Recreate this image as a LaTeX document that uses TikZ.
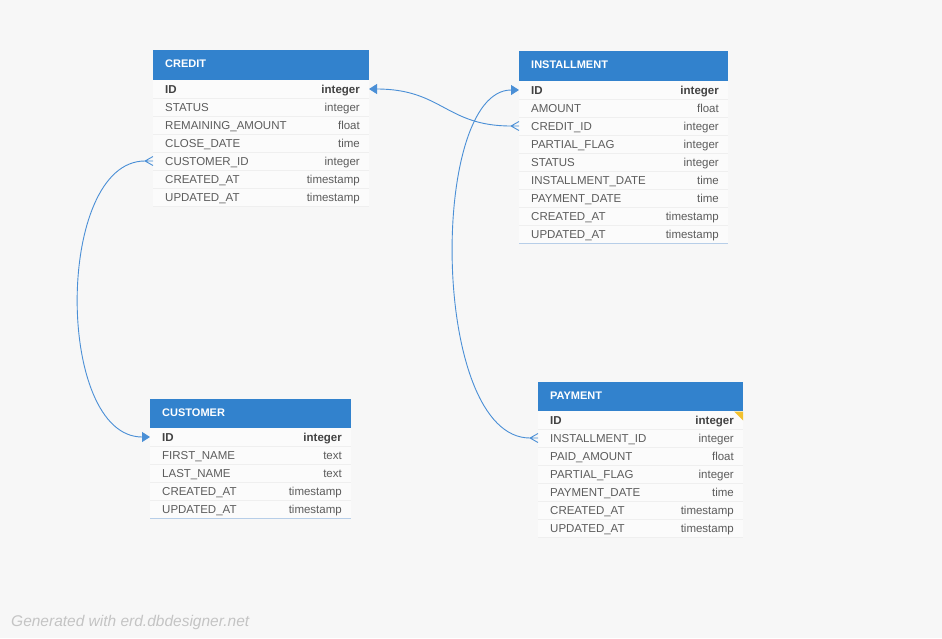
\documentclass[tikz,border=0pt]{standalone}
\usepackage{fontspec}
\setmainfont{Liberation Sans}
\usetikzlibrary{arrows.meta}
\definecolor{bg}{HTML}{F7F7F7}
\definecolor{headblue}{HTML}{3282CD}
\definecolor{rowfill}{HTML}{FBFBFB}
\definecolor{rowline}{HTML}{EFEFEF}
\definecolor{fieldgray}{HTML}{5C5C5C}
\definecolor{keygray}{HTML}{424242}
\definecolor{relblue}{HTML}{4A8FD6}
\definecolor{edgeblue}{HTML}{B7CEE8}
\definecolor{notegray}{HTML}{C4C4C4}
\definecolor{flagyellow}{HTML}{F2C12E}
\tikzset{
tablehead/.style={font=\fontsize{11}{13}\selectfont\bfseries, text=white, anchor=west,
  inner sep=0pt, text height=7.9pt, text depth=0pt},
fieldname/.style={font=\fontsize{11.5}{13}\selectfont, text=fieldgray, anchor=west,
  inner sep=0pt, text height=8.2pt, text depth=0pt},
fieldtype/.style={fieldname, anchor=east},
keyname/.style={fieldname, text=keygray, font=\fontsize{11.5}{13}\selectfont\bfseries},
keytype/.style={keyname, anchor=east},
row/.style={minimum height=18pt, inner sep=0pt, outer sep=0pt},
relation/.style={draw=relblue, line width=0.9pt},
onetip/.style={-{Triangle[length=8pt,width=10pt]}},
crowfoot/.pic={
  \draw[relation] (-8,0) -- (0,-4.5) (-8,0) -- (0,0) (-8,0) -- (0,4.5);
  }
}

\begin{document}
\begin{tikzpicture}[x=1pt, y=-1pt]
\useasboundingbox (0,0) rectangle (942,638);
\fill[bg] (0,0) rectangle (942,638);

% CREDIT
\fill[headblue] (153,50) rectangle (369,80);
\node[tablehead] (credit) at (165,64) {CREDIT};
\fill[rowfill] (153,80) rectangle (369,206);
\node[row, minimum width=216pt] (credit-1) at (261,89) {};
\node[keyname] (credit-1-n) at ([xshift=12pt]credit-1.west) {ID};
\node[keytype] (credit-1-t) at ([xshift=-9pt]credit-1.east) {integer};
\draw[rowline] (credit-1.south west) -- (credit-1.south east);
\foreach \fname/\ftype [count=\i from 2] in {STATUS/integer, REMAINING\_AMOUNT/float,
    CLOSE\_DATE/time, CUSTOMER\_ID/integer, CREATED\_AT/timestamp, UPDATED\_AT/timestamp}{
  \node[row, minimum width=216pt] (credit-\i) at (261,{71+18*\i}) {};
  \node[fieldname] (credit-\i-n) at ([xshift=12pt]credit-\i.west) {\fname};
  \node[fieldtype] (credit-\i-t) at ([xshift=-9pt]credit-\i.east) {\ftype};
  \draw[rowline] (credit-\i.south west) -- (credit-\i.south east);
}

% INSTALLMENT
\fill[headblue] (519,51) rectangle (728,81);
\node[tablehead] (installment) at (531,65) {INSTALLMENT};
\fill[rowfill] (519,81) rectangle (728,243);
\node[row, minimum width=209pt] (installment-1) at (623.5,90) {};
\node[keyname] (installment-1-n) at ([xshift=12pt]installment-1.west) {ID};
\node[keytype] (installment-1-t) at ([xshift=-9pt]installment-1.east) {integer};
\draw[rowline] (installment-1.south west) -- (installment-1.south east);
\foreach \fname/\ftype [count=\i from 2] in {AMOUNT/float, CREDIT\_ID/integer,
    PARTIAL\_FLAG/integer, STATUS/integer, INSTALLMENT\_DATE/time, PAYMENT\_DATE/time,
    CREATED\_AT/timestamp, UPDATED\_AT/timestamp}{
  \node[row, minimum width=209pt] (installment-\i) at (623.5,{72+18*\i}) {};
  \node[fieldname] (installment-\i-n) at ([xshift=12pt]installment-\i.west) {\fname};
  \node[fieldtype] (installment-\i-t) at ([xshift=-9pt]installment-\i.east) {\ftype};
  \draw[rowline] (installment-\i.south west) -- (installment-\i.south east);
}
\draw[edgeblue] (installment-9.south west) -- (installment-9.south east);

% CUSTOMER
\fill[headblue] (150,399) rectangle (351,428);
\node[tablehead] (customer) at (162,413) {CUSTOMER};
\fill[rowfill] (150,428) rectangle (351,518);
\node[row, minimum width=201pt] (customer-1) at (250.5,437) {};
\node[keyname] (customer-1-n) at ([xshift=12pt]customer-1.west) {ID};
\node[keytype] (customer-1-t) at ([xshift=-9pt]customer-1.east) {integer};
\draw[rowline] (customer-1.south west) -- (customer-1.south east);
\foreach \fname/\ftype [count=\i from 2] in {FIRST\_NAME/text, LAST\_NAME/text,
    CREATED\_AT/timestamp, UPDATED\_AT/timestamp}{
  \node[row, minimum width=201pt] (customer-\i) at (250.5,{419+18*\i}) {};
  \node[fieldname] (customer-\i-n) at ([xshift=12pt]customer-\i.west) {\fname};
  \node[fieldtype] (customer-\i-t) at ([xshift=-9pt]customer-\i.east) {\ftype};
  \draw[rowline] (customer-\i.south west) -- (customer-\i.south east);
}
\draw[edgeblue] (customer-5.south west) -- (customer-5.south east);

% PAYMENT
\fill[headblue] (538,382) rectangle (743,411);
\node[tablehead] (payment) at (550,396) {PAYMENT};
\fill[rowfill] (538,411) rectangle (743,537);
\node[row, minimum width=205pt] (payment-1) at (640.5,420) {};
\node[keyname] (payment-1-n) at ([xshift=12pt]payment-1.west) {ID};
\node[keytype] (payment-1-t) at ([xshift=-9pt]payment-1.east) {integer};
\draw[rowline] (payment-1.south west) -- (payment-1.south east);
\fill[flagyellow] (734,411.5) -- (743,411.5) -- (743,420.5) -- cycle;
\foreach \fname/\ftype [count=\i from 2] in {INSTALLMENT\_ID/integer, PAID\_AMOUNT/float,
    PARTIAL\_FLAG/integer, PAYMENT\_DATE/time, CREATED\_AT/timestamp, UPDATED\_AT/timestamp}{
  \node[row, minimum width=205pt] (payment-\i) at (640.5,{402+18*\i}) {};
  \node[fieldname] (payment-\i-n) at ([xshift=12pt]payment-\i.west) {\fname};
  \node[fieldtype] (payment-\i-t) at ([xshift=-9pt]payment-\i.east) {\ftype};
  \draw[rowline] (payment-\i.south west) -- (payment-\i.south east);
}

% relations
\pic at (installment-3.west) {crowfoot};
\draw[relation, onetip] ([xshift=-8pt]installment-3.west)
  .. controls +(-65,0) and +(73,0) .. (credit-1.east);
\pic at (payment-2.west) {crowfoot};
\draw[relation, onetip] ([xshift=-8pt]payment-2.west)
  .. controls +(-100,0) and +(-90,0) .. (installment-1.west);
\pic at (credit-5.west) {crowfoot};
\draw[relation, onetip] ([xshift=-8pt]credit-5.west)
  .. controls +(-90,0) and +(-95,0) .. (customer-1.west);

\node[anchor=west, inner sep=0pt, font=\fontsize{15.5}{18}\selectfont\itshape, text=notegray]
  (footer) at (11,622) {Generated with erd.dbdesigner.net};
\end{tikzpicture}
\end{document}
